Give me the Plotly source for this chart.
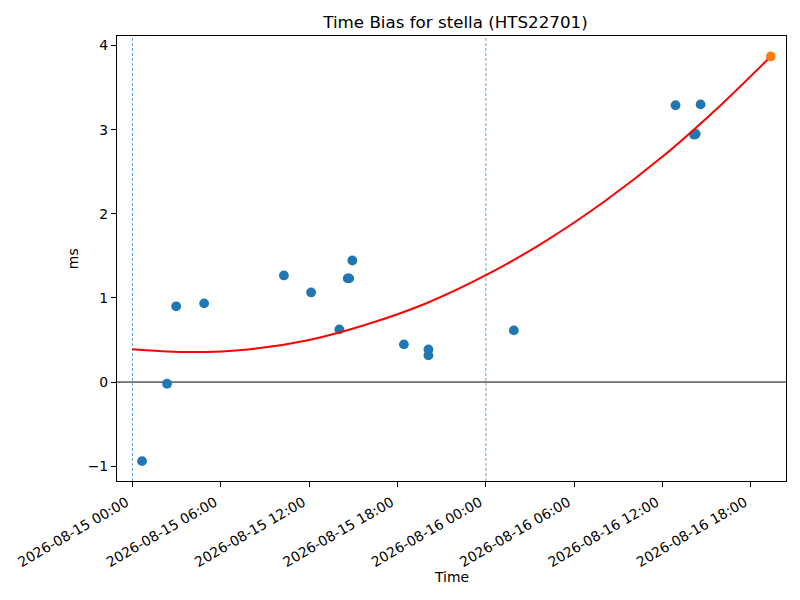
import plotly.graph_objects as go

obs_times = [
    "2026-08-15 00:39", "2026-08-15 02:21", "2026-08-15 02:58", "2026-08-15 04:52",
    "2026-08-15 10:17", "2026-08-15 12:08", "2026-08-15 14:03", "2026-08-15 14:37",
    "2026-08-15 14:43", "2026-08-15 14:56", "2026-08-15 18:26", "2026-08-15 20:06",
    "2026-08-15 20:06", "2026-08-16 01:54", "2026-08-16 12:53", "2026-08-16 14:09",
    "2026-08-16 14:15", "2026-08-16 14:35",
]
obs_bias = [
    -0.94, -0.02, 0.90, 0.935,
    1.267, 1.065, 0.626, 1.232,
    1.232, 1.445, 0.448, 0.388,
    0.317, 0.614, 3.29, 2.94,
    2.95, 3.30,
]

# fitted trend, sampled off the red curve
fit_times = [
    "2026-08-15 00:00", "2026-08-15 04:00", "2026-08-15 08:00", "2026-08-15 12:00",
    "2026-08-15 16:00", "2026-08-15 20:00", "2026-08-16 00:00", "2026-08-16 04:00",
    "2026-08-16 08:00", "2026-08-16 12:00", "2026-08-16 16:00", "2026-08-16 19:21",
]
fit_bias = [0.39, 0.356, 0.39, 0.50, 0.69, 0.94, 1.27, 1.67, 2.14, 2.68, 3.30, 3.87]

# predicted value at the end of the fit
pred_time = ["2026-08-16 19:21"]
pred_bias = [3.87]

# day boundaries
day_marks = ["2026-08-15 00:00", "2026-08-16 00:00"]

font = "DejaVu Sans, Liberation Sans, sans-serif"

fig = go.Figure()

fig.add_trace(go.Scatter(
    x=obs_times, y=obs_bias, mode="markers",
    marker=dict(color="#1f77b4", size=9.8, line=dict(width=0)),
    showlegend=False,
))
fig.add_trace(go.Scatter(
    x=fit_times, y=fit_bias, mode="lines",
    line=dict(color="red", width=2, shape="spline", smoothing=1.0),
    showlegend=False,
))
fig.add_trace(go.Scatter(
    x=pred_time, y=pred_bias, mode="markers",
    marker=dict(color="#ff7f0e", size=9.8, line=dict(width=0)),
    showlegend=False,
))

for d in day_marks:
    fig.add_shape(type="line", xref="x", yref="paper", x0=d, x1=d, y0=0, y1=1,
                  line=dict(color="#1f77b4", width=0.7, dash="3px,2px"), layer="below")
fig.add_shape(type="line", xref="paper", yref="y", x0=0, x1=1, y0=0, y1=0,
              line=dict(color="black", width=1), layer="below")

axis_common = dict(
    showgrid=False, zeroline=False, showline=True, linecolor="black", linewidth=1.1,
    mirror=True, ticks="outside", ticklen=5, tickwidth=1.1, tickcolor="black",
    tickfont=dict(family=font, size=13.9, color="black"), automargin=False,
)

fig.update_xaxes(
    range=["2026-08-14 22:57", "2026-08-16 20:23"],
    tick0="2026-08-15 00:00", dtick=6 * 3600 * 1000,
    tickformat="%Y-%m-%d %H:%M", tickangle=-30,
    ticklabelstandoff=2, ticklabelshift=-6,
    **axis_common,
)
fig.update_yaxes(
    range=[-1.176, 4.113], tickvals=[-1, 0, 1, 2, 3, 4],
    ticktext=["\u22121", "0", "1", "2", "3", "4"],
    **axis_common,
)

fig.add_annotation(text="Time", xref="paper", yref="paper", x=0.5, y=-0.2156,
                   showarrow=False, yanchor="middle",
                   font=dict(family=font, size=13.9, color="black"))
fig.add_annotation(text="ms", xref="paper", yref="paper", x=-0.0663, y=0.5,
                   showarrow=False, textangle=-90, xanchor="center",
                   font=dict(family=font, size=13.9, color="black"))

# the page body adds an 8px margin, so the figure is shrunk by that much
fig.update_layout(
    width=792, height=592,
    margin=dict(l=109, r=14, t=28, b=119),
    paper_bgcolor="white", plot_bgcolor="white",
    title=dict(text="Time Bias for stella (HTS22701)", x=0.565, xanchor="center",
               y=0.9764, yanchor="middle",
               font=dict(family=font, size=16.7, color="black")),
)

fig.write_html("out.html")
